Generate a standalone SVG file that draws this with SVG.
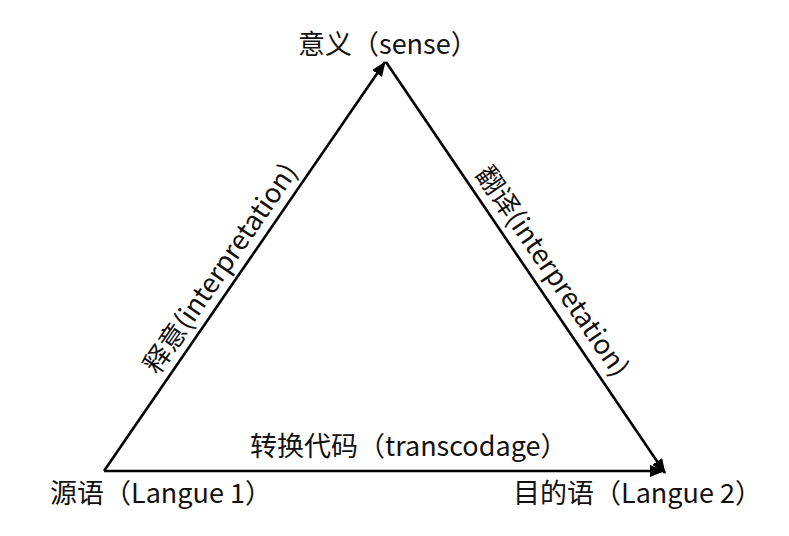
<svg xmlns="http://www.w3.org/2000/svg" width="789" height="536" viewBox="0 0 789 536">
<style>
.lbl{font-family:"Noto Sans CJK SC","Noto Sans",sans-serif;font-size:27px;fill:#111;}
.rot{font-family:"Noto Sans CJK SC","Noto Sans",sans-serif;font-size:27px;fill:#111;text-anchor:middle;}
.edge{stroke:#000;stroke-width:2.6;fill:none;}
</style>
<defs>
<marker id="arr" markerUnits="userSpaceOnUse" markerWidth="15" markerHeight="12" refX="14" refY="6" orient="auto">
<path d="M0,0 L15,6 L0,12 z" fill="#000"/>
</marker>
</defs>
<rect width="789" height="536" fill="#fff"/>
<g id="connectors">
<line class="edge" x1="104" y1="471" x2="385" y2="62" marker-end="url(#arr)"/>
<line class="edge" x1="386" y1="62" x2="665" y2="473" marker-end="url(#arr)"/>
<line class="edge" x1="104" y1="471" x2="664" y2="471" marker-end="url(#arr)"/>
<text class="rot" transform="translate(228,273.7) rotate(-55.4)">释意(interpretation)</text>
<text class="rot" transform="translate(544.8,276.5) rotate(55.6)">翻译(interpretation)</text>
<text class="lbl" x="250" y="456">转换代码（transcodage）</text>
</g>
<g id="node-sense">
<text class="lbl" x="298" y="54">意义（sense）</text>
</g>
<g id="node-source">
<text class="lbl" x="50" y="503">源语（Langue 1）</text>
</g>
<g id="node-target">
<text class="lbl" x="513" y="503">目的语（Langue 2）</text>
</g>
</svg>
